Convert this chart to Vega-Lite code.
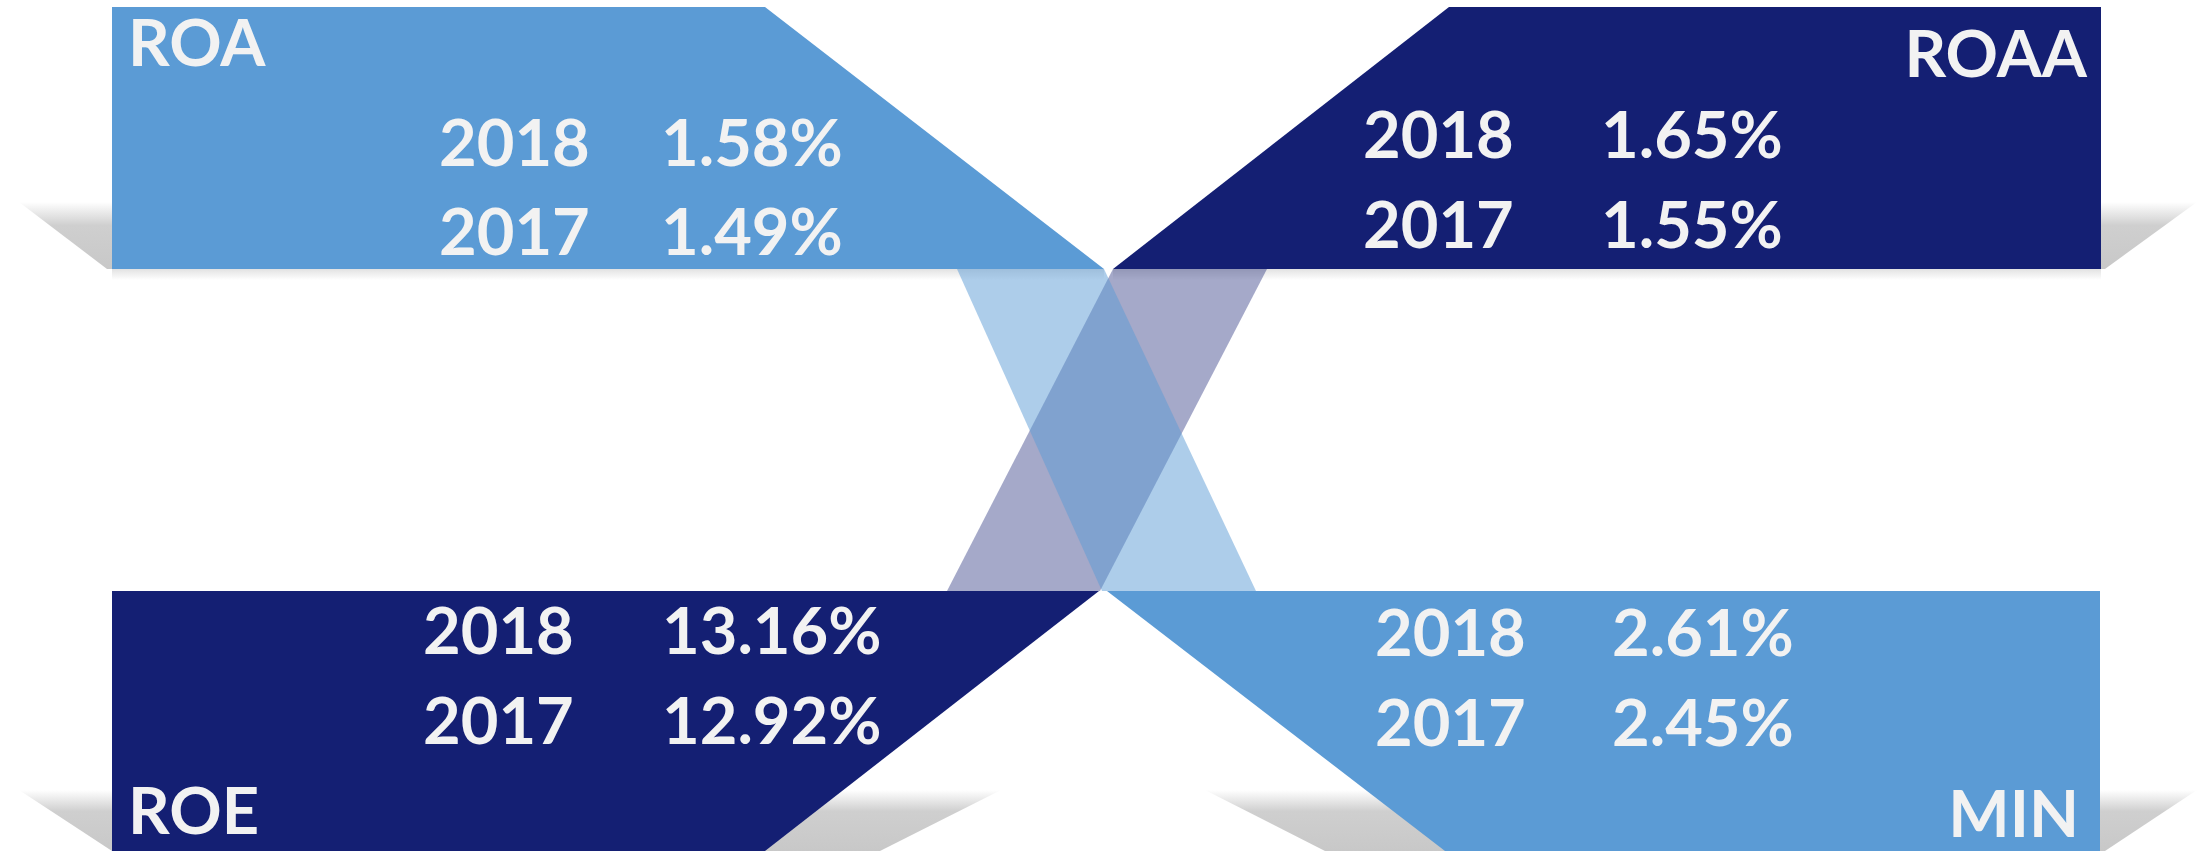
{
  "$schema": "https://vega.github.io/schema/vega-lite/v6.json",
  "width": 2201,
  "height": 851,
  "autosize": {"type": "fit", "contains": "padding"},
  "padding": 0,
  "background": "#ffffff",
  "config": {"view": {"stroke": null}},
  "datasets": {
    "shadows": [
      {"id": "ROA-left", "x": 19, "top": 202, "bottom": 202},
      {"id": "ROA-left", "x": 107, "top": 202, "bottom": 269},
      {"id": "ROA-left", "x": 150, "top": 202, "bottom": 269},
      {"id": "ROAA-right", "x": 2050, "top": 202, "bottom": 269},
      {"id": "ROAA-right", "x": 2105, "top": 202, "bottom": 269},
      {"id": "ROAA-right", "x": 2197, "top": 202, "bottom": 202},
      {"id": "ROE-left", "x": 19, "top": 790, "bottom": 790},
      {"id": "ROE-left", "x": 112, "top": 790, "bottom": 851},
      {"id": "ROE-left", "x": 150, "top": 790, "bottom": 851},
      {"id": "ROE-right", "x": 760, "top": 790, "bottom": 851},
      {"id": "ROE-right", "x": 880, "top": 790, "bottom": 851},
      {"id": "ROE-right", "x": 1001, "top": 790, "bottom": 790},
      {"id": "MIN-left", "x": 1205, "top": 790, "bottom": 790},
      {"id": "MIN-left", "x": 1325, "top": 790, "bottom": 851},
      {"id": "MIN-left", "x": 1500, "top": 790, "bottom": 851},
      {"id": "MIN-right", "x": 2050, "top": 790, "bottom": 851},
      {"id": "MIN-right", "x": 2105, "top": 790, "bottom": 851},
      {"id": "MIN-right", "x": 2197, "top": 790, "bottom": 790}
    ],
    "strips": [
      {"id": "ROA", "x": 112, "top": 269, "bottom": 280},
      {"id": "ROA", "x": 1104, "top": 269, "bottom": 280},
      {"id": "ROAA", "x": 1113, "top": 269, "bottom": 280},
      {"id": "ROAA", "x": 2101, "top": 269, "bottom": 280}
    ],
    "boxes": [
      {"metric": "ROA", "x": 112, "top": 7, "bottom": 269},
      {"metric": "ROA", "x": 765, "top": 7, "bottom": 269},
      {"metric": "ROA", "x": 1104, "top": 269, "bottom": 269},
      {"metric": "ROAA", "x": 1113, "top": 269, "bottom": 269},
      {"metric": "ROAA", "x": 1449, "top": 7, "bottom": 269},
      {"metric": "ROAA", "x": 2101, "top": 7, "bottom": 269},
      {"metric": "ROE", "x": 112, "top": 591, "bottom": 851},
      {"metric": "ROE", "x": 765, "top": 591, "bottom": 851},
      {"metric": "ROE", "x": 1099, "top": 591, "bottom": 591},
      {"metric": "MIN", "x": 1107, "top": 591, "bottom": 591},
      {"metric": "MIN", "x": 1445, "top": 591, "bottom": 851},
      {"metric": "MIN", "x": 2100, "top": 591, "bottom": 851}
    ],
    "bands": [
      {"link": "ROAA-ROE", "y": 269, "left": 1113, "right": 1267},
      {"link": "ROAA-ROE", "y": 591, "left": 947, "right": 1100},
      {"link": "ROA-MIN", "y": 269, "left": 957, "right": 1104},
      {"link": "ROA-MIN", "y": 591, "left": 1102, "right": 1256}
    ],
    "titlesLeft": [
      {"text": "ROA", "x": 128, "y": 66},
      {"text": "ROE", "x": 128, "y": 834}
    ],
    "titlesRight": [
      {"text": "ROAA", "x": 2087, "y": 77},
      {"text": "MIN", "x": 2079, "y": 837}
    ],
    "values": [
      {"metric": "ROA", "year": "2018", "value": "1.58%", "yearX": 439, "valueX": 661, "y": 166},
      {"metric": "ROA", "year": "2017", "value": "1.49%", "yearX": 439, "valueX": 661, "y": 255},
      {"metric": "ROAA", "year": "2018", "value": "1.65%", "yearX": 1363, "valueX": 1601, "y": 158},
      {"metric": "ROAA", "year": "2017", "value": "1.55%", "yearX": 1363, "valueX": 1601, "y": 248},
      {"metric": "ROE", "year": "2018", "value": "13.16%", "yearX": 423, "valueX": 662, "y": 654},
      {"metric": "ROE", "year": "2017", "value": "12.92%", "yearX": 423, "valueX": 662, "y": 744},
      {"metric": "MIN", "year": "2018", "value": "2.61%", "yearX": 1375, "valueX": 1612, "y": 656},
      {"metric": "MIN", "year": "2017", "value": "2.45%", "yearX": 1375, "valueX": 1612, "y": 746}
    ]
  },
  "layer": [
    {
      "data": {"name": "shadows"},
      "mark": {
        "type": "area",
        "interpolate": "linear",
        "color": {
          "gradient": "linear", "x1": 0, "y1": 0, "x2": 0, "y2": 1,
          "stops": [
            {"offset": 0, "color": "#ffffff"},
            {"offset": 0.35, "color": "#cfcfcf"},
            {"offset": 1, "color": "#c8c8c8"}
          ]
        }
      },
      "encoding": {
        "x": {"field": "x", "type": "quantitative", "scale": {"domain": [0, 2201], "nice": false, "zero": false}, "axis": null},
        "y": {"field": "top", "type": "quantitative", "scale": {"domain": [0, 851], "reverse": true, "nice": false, "zero": false}, "axis": null},
        "y2": {"field": "bottom"},
        "detail": {"field": "id", "type": "nominal"}
      }
    },
    {
      "data": {"name": "strips"},
      "mark": {
        "type": "area",
        "color": {
          "gradient": "linear", "x1": 0, "y1": 0, "x2": 0, "y2": 1,
          "stops": [
            {"offset": 0, "color": "#e2e2e2"},
            {"offset": 1, "color": "#ffffff"}
          ]
        }
      },
      "encoding": {
        "x": {"field": "x", "type": "quantitative", "axis": null},
        "y": {"field": "top", "type": "quantitative", "axis": null},
        "y2": {"field": "bottom"},
        "detail": {"field": "id", "type": "nominal"}
      }
    },
    {
      "data": {"name": "boxes"},
      "mark": {"type": "area", "interpolate": "linear", "opacity": 1},
      "encoding": {
        "x": {"field": "x", "type": "quantitative", "axis": null},
        "y": {"field": "top", "type": "quantitative", "axis": null},
        "y2": {"field": "bottom"},
        "color": {
          "field": "metric", "type": "nominal", "legend": null,
          "scale": {"domain": ["ROA", "ROAA", "ROE", "MIN"], "range": ["#5b9bd5", "#141f73", "#141f73", "#5b9bd5"]}
        }
      }
    },
    {
      "data": {"name": "bands"},
      "transform": [{"filter": "datum.link === 'ROAA-ROE'"}],
      "mark": {"type": "area", "orient": "horizontal", "color": "#141f73", "opacity": 0.385},
      "encoding": {
        "y": {"field": "y", "type": "quantitative", "axis": null},
        "x": {"field": "left", "type": "quantitative", "axis": null},
        "x2": {"field": "right"}
      }
    },
    {
      "data": {"name": "bands"},
      "transform": [{"filter": "datum.link === 'ROA-MIN'"}],
      "mark": {"type": "area", "orient": "horizontal", "color": "#5b9bd5", "opacity": 0.5},
      "encoding": {
        "y": {"field": "y", "type": "quantitative", "axis": null},
        "x": {"field": "left", "type": "quantitative", "axis": null},
        "x2": {"field": "right"}
      }
    },
    {
      "data": {"name": "titlesLeft"},
      "mark": {"type": "text", "align": "left", "baseline": "alphabetic", "font": "Lato", "fontWeight": "bold", "fontSize": 65, "color": "#f2f2f2"},
      "encoding": {
        "x": {"field": "x", "type": "quantitative", "axis": null},
        "y": {"field": "y", "type": "quantitative", "axis": null},
        "text": {"field": "text"}
      }
    },
    {
      "data": {"name": "titlesRight"},
      "mark": {"type": "text", "align": "right", "baseline": "alphabetic", "font": "Lato", "fontWeight": "bold", "fontSize": 65, "color": "#f2f2f2"},
      "encoding": {
        "x": {"field": "x", "type": "quantitative", "axis": null},
        "y": {"field": "y", "type": "quantitative", "axis": null},
        "text": {"field": "text"}
      }
    },
    {
      "data": {"name": "values"},
      "mark": {"type": "text", "align": "left", "baseline": "alphabetic", "font": "Lato", "fontWeight": "bold", "fontSize": 65, "color": "#f2f2f2"},
      "encoding": {
        "x": {"field": "yearX", "type": "quantitative", "axis": null},
        "y": {"field": "y", "type": "quantitative", "axis": null},
        "text": {"field": "year"}
      }
    },
    {
      "data": {"name": "values"},
      "mark": {"type": "text", "align": "left", "baseline": "alphabetic", "font": "Lato", "fontWeight": "bold", "fontSize": 65, "color": "#f2f2f2"},
      "encoding": {
        "x": {"field": "valueX", "type": "quantitative", "axis": null},
        "y": {"field": "y", "type": "quantitative", "axis": null},
        "text": {"field": "value"}
      }
    }
  ]
}
